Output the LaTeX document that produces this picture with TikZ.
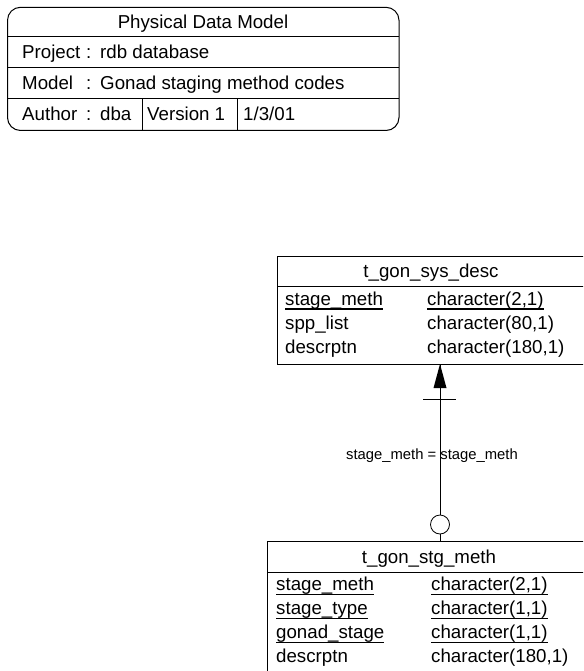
\documentclass[tikz,border=0pt]{standalone}
\usepackage{fontspec}
\setmainfont{Liberation Sans}
\usetikzlibrary{calc}
\newcommand\tabfont{\fontsize{18.7}{22}\selectfont}
\newcommand\relfont{\fontsize{14.8}{17}\selectfont}
\newcommand\keyul[1]{\setbox0\hbox{#1}\rlap{\rule[-4.5pt]{\wd0}{1.5pt}}\box0}
\tikzset{
	txt/.style={anchor=base west, inner sep=0pt, font=\tabfont},
	hdr/.style={anchor=base, inner sep=0pt, font=\tabfont},
	frame/.style={line width=1pt, draw=black},
}

\begin{document}
\begin{tikzpicture}[x=1pt, y=-1pt]
	\clip (0,0) rectangle (583,671);
	
	\coordinate[](Ta) at (7.5,7.3);
	\coordinate[](Tb) at (399,130.5);
	\coordinate[](Tl) at (142,99);
	\coordinate[](Tr) at (237,99);
	
	\coordinate[](Da) at (277,256);
	\coordinate[](Db) at (586,364);
	\coordinate[](Dh) at (277,286);
	
	\coordinate[](Sa) at (267,541.5);
	\coordinate[](Sb) at (592,700);
	\coordinate[](Sh) at (267,572);
	
	\coordinate[](Ru) at (440,364);
	\coordinate[](Rb) at (440,388);
	\coordinate[](Rc) at (440,524.5);
	\coordinate[](Rl) at (440,541.5);
	
	% Title block
	\draw[frame, rounded corners=13pt] (Ta) rectangle (Tb);
	\draw[frame] (7.5,37) -- (399,37);
	\draw[frame] (7.5,67.5) -- (399,67.5);
	\draw[frame] (7.5,99) -- (399,99);
	\draw[frame] (Tl) -- (142,130.5);
	\draw[frame] (Tr) -- (237,130.5);
	
	\node[hdr] (title) at (203,28.5) {Physical Data Model};
	\node[txt] (proj) at (22,59) {Project};
	\node[txt] (projc) at (86,59) {:};
	\node[txt] (projv) at (100,59) {rdb database};
	\node[txt] (mod) at (22,89.5) {Model};
	\node[txt] (modc) at (86,89.5) {:};
	\node[txt] (modv) at (100,89.5) {Gonad staging method codes};
	\node[txt] (auth) at (22,121) {Author};
	\node[txt] (authc) at (86,121) {:};
	\node[txt] (authv) at (100,121) {dba};
	\node[txt] (vers) at (147,121) {Version 1};
	\node[txt] (date) at (243,121) {1/3/01};
	
	% t_gon_sys_desc
	\draw[frame] (Da) rectangle (Db);
	\draw[frame] (Dh) -- (Dh -| Db);
	\node[hdr] (sdname) at (431,277.5) {t\_gon\_sys\_desc};
	\node[txt] (sd1) at (285,305) {\keyul{stage\_meth}};
	\node[txt] (sd1t) at (427,305) {\keyul{character(2,1)}};
	\node[txt] (sd2) at (285,329) {spp\_list};
	\node[txt] (sd2t) at (427,329) {character(80,1)};
	\node[txt] (sd3) at (285,353) {descrptn};
	\node[txt] (sd3t) at (427,353) {character(180,1)};
	
	% t_gon_stg_meth
	\draw[frame] (Sa) rectangle (Sb);
	\draw[frame] (Sh) -- (Sh -| Sb);
	\node[hdr] (smname) at (429,563.5) {t\_gon\_stg\_meth};
	\node[txt] (sm1) at (276,590.5) {\keyul{stage\_meth}};
	\node[txt] (sm1t) at (431,590.5) {\keyul{character(2,1)}};
	\node[txt] (sm2) at (276,614.5) {\keyul{stage\_type}};
	\node[txt] (sm2t) at (431,614.5) {\keyul{character(1,1)}};
	\node[txt] (sm3) at (276,638.5) {\keyul{gonad\_stage}};
	\node[txt] (sm3t) at (431,638.5) {\keyul{character(1,1)}};
	\node[txt] (sm4) at (276,662.5) {descrptn};
	\node[txt] (sm4t) at (431,662.5) {character(180,1)};
	
	%% Relation
	\draw[line width=0.8pt] (Ru) -- ($(Rc)+(0,-9.5)$);
	\draw[line width=0.8pt] ($(Rc)+(0,9.5)$) -- (Rl);
	\fill[black] (Ru) -- ($(Rb)+(-6.5,0)$) -- ($(Rb)+(6.5,0)$) -- cycle;
	\draw[line width=0.8pt] (423,399) -- (456,399);
	\draw[line width=0.8pt, fill=white] (Rc) circle (9.5);
	\node[anchor=base, inner sep=0pt, font=\relfont] (rel) at (432,459.5) {stage\_meth = stage\_meth};
	
\end{tikzpicture}
\end{document}
